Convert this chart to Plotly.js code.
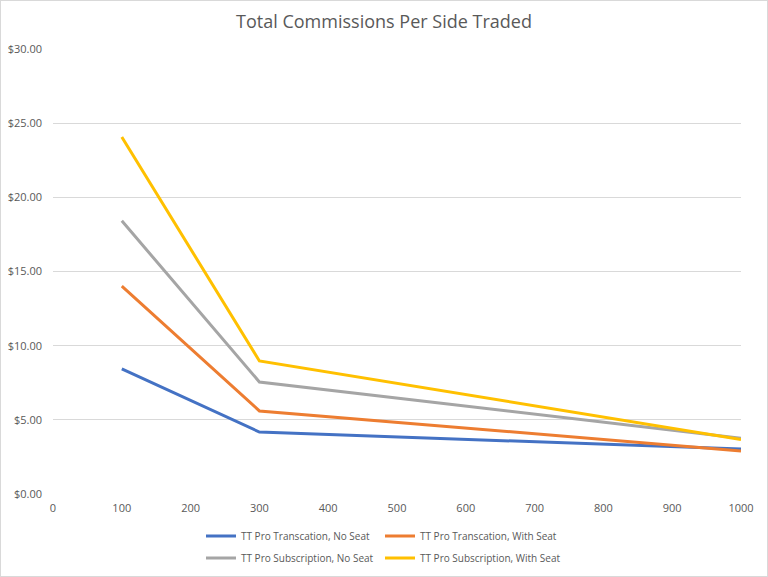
<!DOCTYPE html>
<html><head><meta charset="utf-8">
<script src="https://cdn.plot.ly/plotly-3.0.1.min.js"></script>
<style>body{margin:0;background:#fff}#c{width:766px;height:575px;border:1px solid #d9d9d9}</style>
</head><body><div id="c"></div>
<script>
const sidesTraded = [100, 300, 1000];
const transNoSeat = [8.43, 4.18, 3.03];
const transWithSeat = [14.02, 5.60, 2.90];
const subNoSeat = [18.42, 7.55, 3.75];
const subWithSeat = [24.07, 8.97, 3.68];
const seriesNames = ['TT Pro Transcation, No Seat','TT Pro Transcation, With Seat','TT Pro Subscription, No Seat','TT Pro Subscription, With Seat'];
const colors = ['#4472C4','#ED7D31','#A5A5A5','#FFC000'];
const legendIds = ['legend','legend2','legend3','legend4'];
const allSeries = [transNoSeat, transWithSeat, subNoSeat, subWithSeat];
const traces = allSeries.map((s,i)=>({x:sidesTraded,y:s,name:seriesNames[i],type:'scatter',mode:'lines',line:{color:colors[i],width:3},legend:legendIds[i]}));
const font = {family:'"Open Sans", "Noto Sans", sans-serif', color:'#595959', size:11};
const legBase = {orientation:'h', xref:'container', xanchor:'left', yref:'container', yanchor:'middle', itemwidth:30, font:{size:10,color:'#595959'}, bgcolor:'rgba(0,0,0,0)'};
const legPos = [[200,535],[379,535],[200,557],[379,557]];
const layout = {
  width:766, height:575,
  margin:{l:52,r:26,t:48,b:82,autoexpand:false},
  paper_bgcolor:'#fff', plot_bgcolor:'#fff',
  font:font,
  title:{text:'Total Commissions Per Side Traded', font:{size:18,color:'#595959',family:font.family}, x:0.5, xanchor:'center', y:0.975, yanchor:'top'},
  xaxis:{range:[0,1000], dtick:100, tick0:0, showgrid:false, zeroline:false, showline:false, ticks:'', ticklabelstandoff:6, tickfont:{size:11,color:'#595959'}},
  yaxis:{range:[0,30], dtick:5, tickprefix:'$', tickformat:'.2f', gridcolor:'#d9d9d9', gridwidth:1, zeroline:false, showline:false, ticks:'', ticklabelstandoff:10, tickfont:{size:11,color:'#595959'}},
  showlegend:true
};
legendIds.forEach((id,i)=>{ layout[id] = Object.assign({}, legBase, {x:legPos[i][0]/766, y:1-legPos[i][1]/575}); });
Plotly.newPlot('c', traces, layout, {displayModeBar:false});
</script></body></html>
